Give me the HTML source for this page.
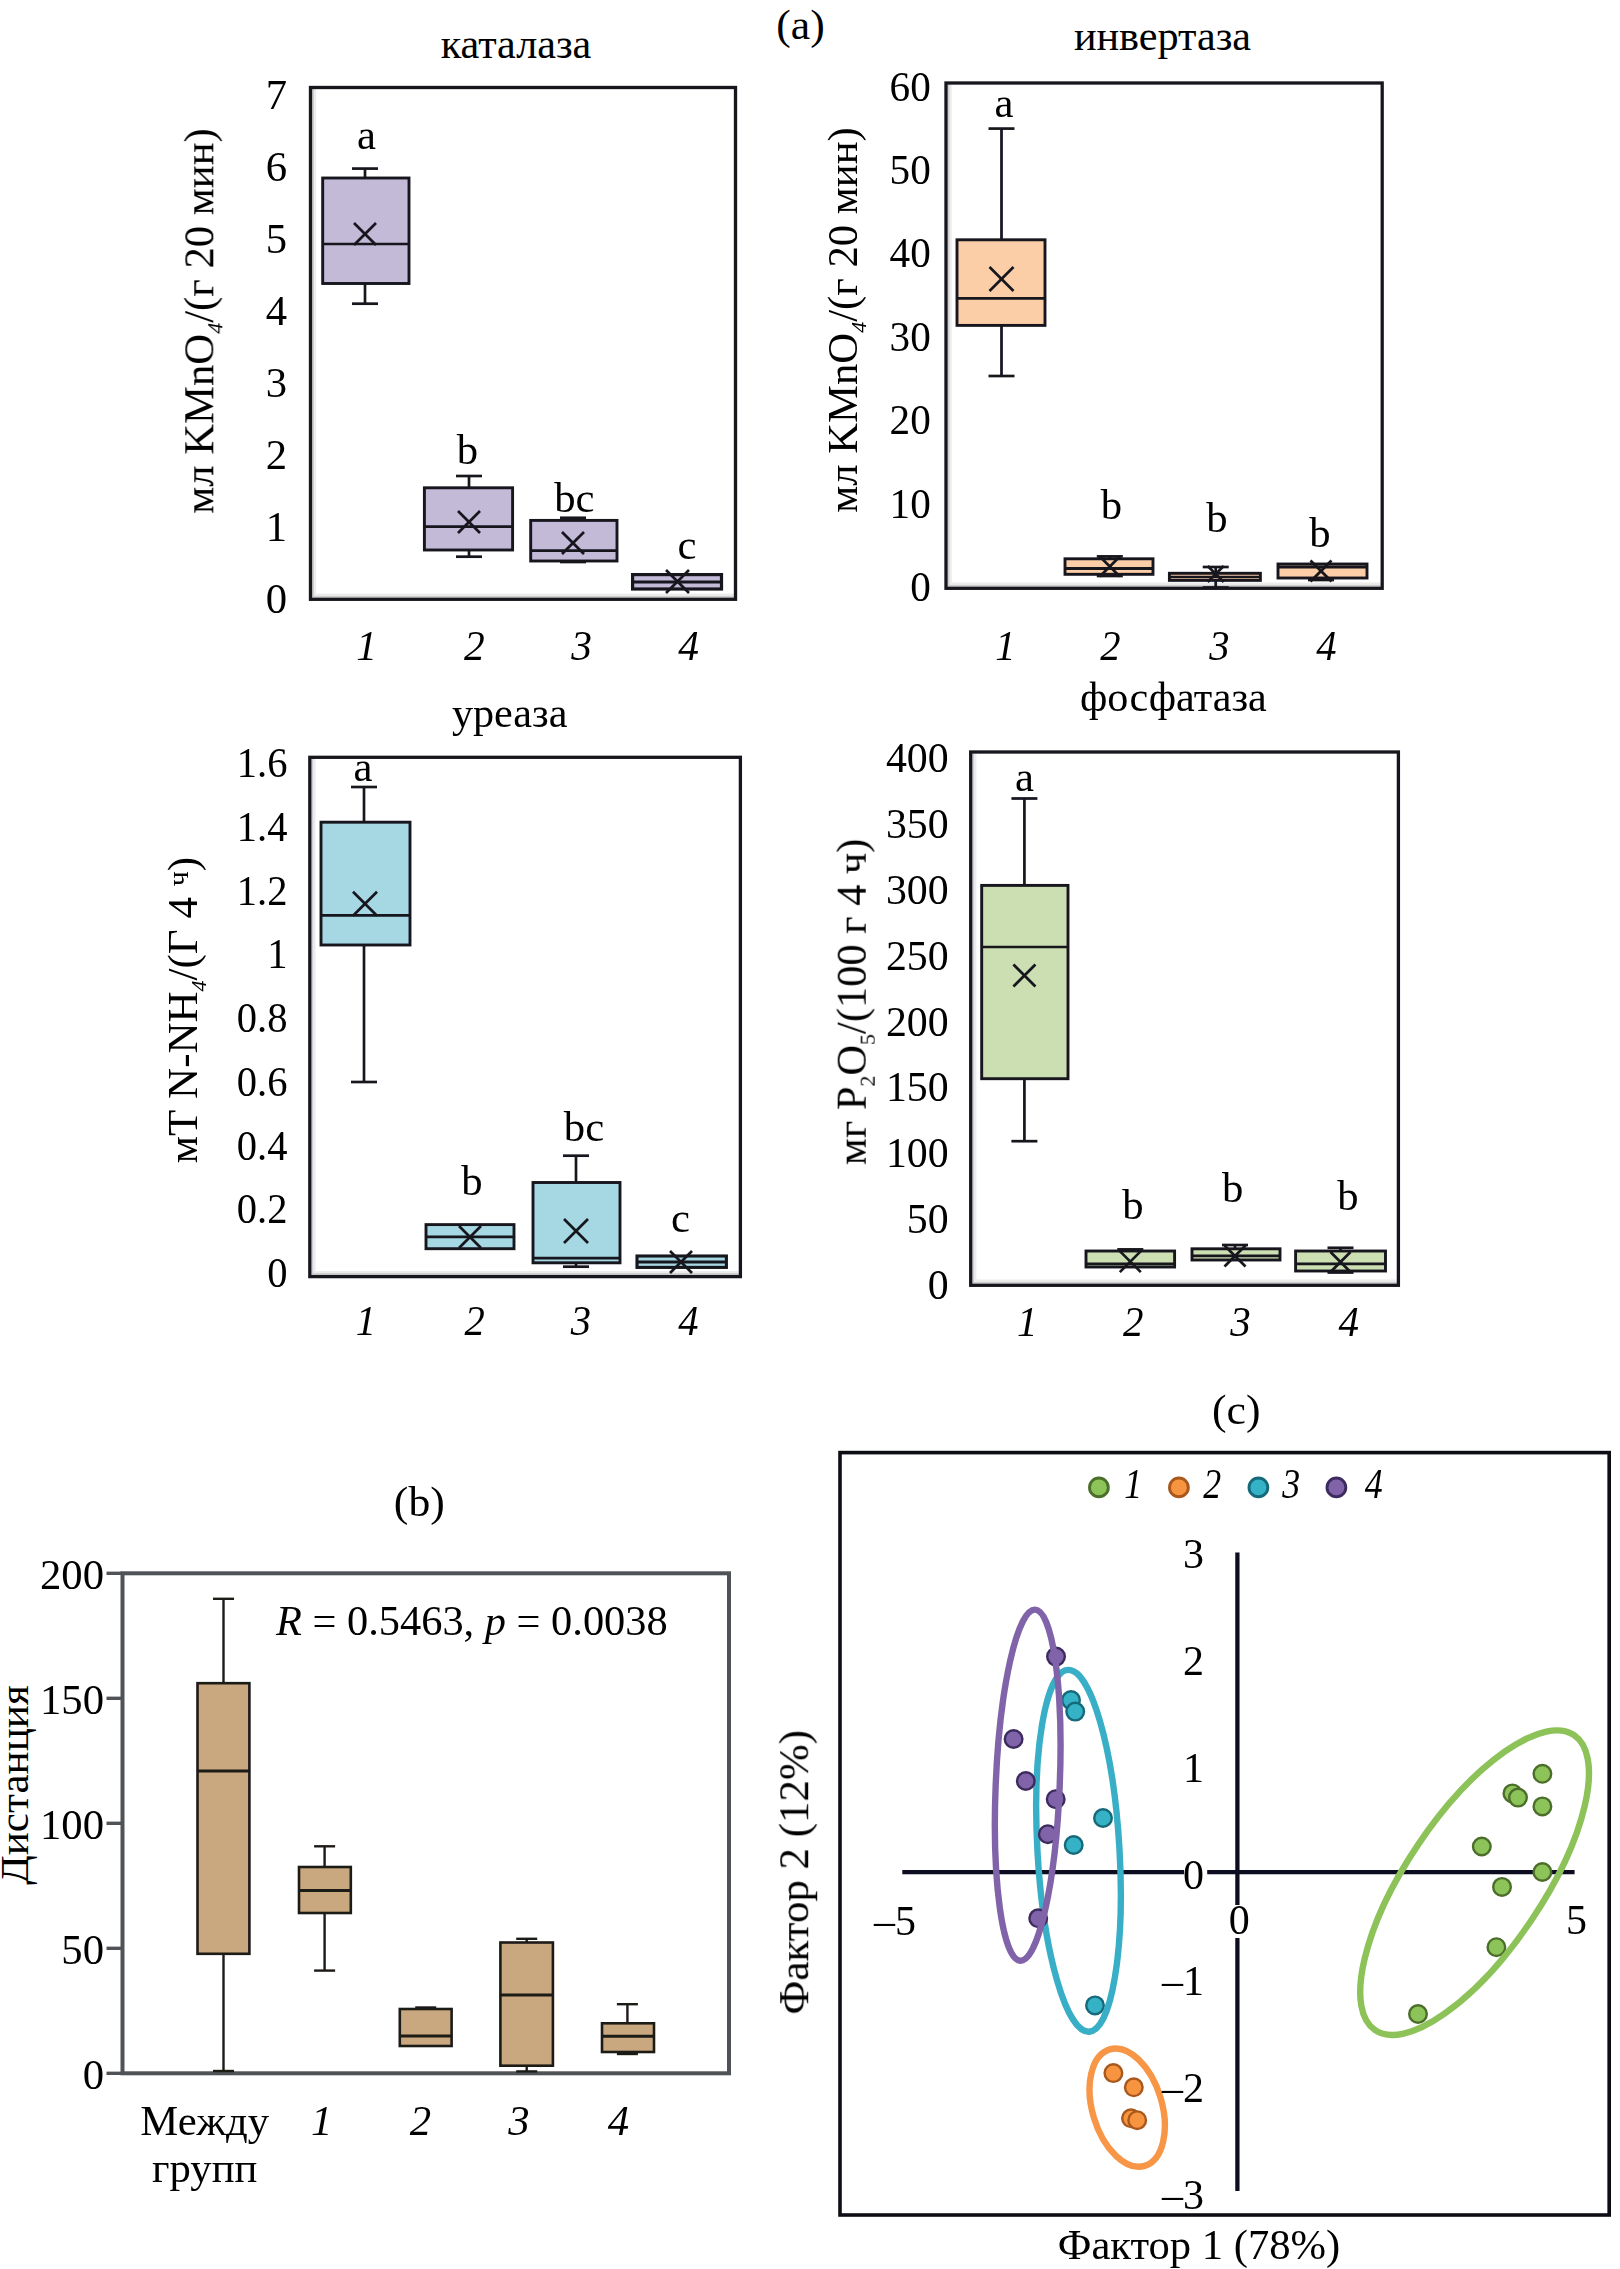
<!DOCTYPE html>
<html lang="ru"><head><meta charset="utf-8"><title>Figure</title>
<style>html,body{margin:0;padding:0;background:#fff}svg{display:block}</style>
</head><body>
<svg width="1620" height="2269" viewBox="0 0 1620 2269" font-family='"Liberation Serif", "Times New Roman", serif'>
<rect width="1620" height="2269" fill="#fff"/>
<defs><filter id="blA" filterUnits="userSpaceOnUse" x="0" y="0" width="1620" height="2269"><feGaussianBlur stdDeviation="0.55"/></filter><filter id="blC" filterUnits="userSpaceOnUse" x="0" y="0" width="1620" height="2269"><feGaussianBlur stdDeviation="0.4"/></filter><filter id="blB" filterUnits="userSpaceOnUse" x="0" y="0" width="1620" height="2269"><feGaussianBlur stdDeviation="0.7"/></filter></defs>
<g filter="url(#blA)">
<path d="M313.1 89.0 V596.7 H734.0" fill="none" stroke="#cfcfcf" stroke-width="2.2"/>
<path d="M315.2 89.0 V594.6 H734.0" fill="none" stroke="#ececec" stroke-width="2"/>
<rect x="310.5" y="87.5" width="425.0" height="511.8" fill="none" stroke="#17191f" stroke-width="3.3"/>
<line x1="365.0" y1="168.6" x2="365.0" y2="178.0" stroke="#14141f" stroke-width="2.7" stroke-linecap="butt"/>
<line x1="352.0" y1="168.6" x2="378.0" y2="168.6" stroke="#14141f" stroke-width="2.7" stroke-linecap="butt"/>
<line x1="365.0" y1="283.5" x2="365.0" y2="303.7" stroke="#14141f" stroke-width="2.7" stroke-linecap="butt"/>
<line x1="352.0" y1="303.7" x2="378.0" y2="303.7" stroke="#14141f" stroke-width="2.7" stroke-linecap="butt"/>
<rect x="322.7" y="178.0" width="86.3" height="105.5" fill="#c3bad7" stroke="#14141f" stroke-width="2.9"/>
<line x1="322.7" y1="244.0" x2="409.0" y2="244.0" stroke="#14141f" stroke-width="2.7" stroke-linecap="butt"/>
<line x1="354.0" y1="223.0" x2="376.0" y2="245.0" stroke="#14141f" stroke-width="2.7" stroke-linecap="butt"/>
<line x1="354.0" y1="245.0" x2="376.0" y2="223.0" stroke="#14141f" stroke-width="2.7" stroke-linecap="butt"/>
<line x1="469.0" y1="476.0" x2="469.0" y2="487.8" stroke="#14141f" stroke-width="2.7" stroke-linecap="butt"/>
<line x1="456.0" y1="476.0" x2="482.0" y2="476.0" stroke="#14141f" stroke-width="2.7" stroke-linecap="butt"/>
<line x1="469.0" y1="550.0" x2="469.0" y2="556.7" stroke="#14141f" stroke-width="2.7" stroke-linecap="butt"/>
<line x1="456.0" y1="556.7" x2="482.0" y2="556.7" stroke="#14141f" stroke-width="2.7" stroke-linecap="butt"/>
<rect x="424.4" y="487.8" width="88.2" height="62.2" fill="#c3bad7" stroke="#14141f" stroke-width="2.9"/>
<line x1="424.4" y1="526.7" x2="512.6" y2="526.7" stroke="#14141f" stroke-width="2.7" stroke-linecap="butt"/>
<line x1="458.0" y1="511.0" x2="480.0" y2="533.0" stroke="#14141f" stroke-width="2.7" stroke-linecap="butt"/>
<line x1="458.0" y1="533.0" x2="480.0" y2="511.0" stroke="#14141f" stroke-width="2.7" stroke-linecap="butt"/>
<line x1="573.0" y1="517.8" x2="573.0" y2="520.4" stroke="#14141f" stroke-width="2.7" stroke-linecap="butt"/>
<line x1="560.0" y1="517.8" x2="586.0" y2="517.8" stroke="#14141f" stroke-width="2.7" stroke-linecap="butt"/>
<line x1="573.0" y1="561.0" x2="573.0" y2="562.0" stroke="#14141f" stroke-width="2.7" stroke-linecap="butt"/>
<line x1="560.0" y1="562.0" x2="586.0" y2="562.0" stroke="#14141f" stroke-width="2.7" stroke-linecap="butt"/>
<rect x="530.7" y="520.4" width="86.3" height="40.6" fill="#c3bad7" stroke="#14141f" stroke-width="2.9"/>
<line x1="530.7" y1="550.7" x2="617.0" y2="550.7" stroke="#14141f" stroke-width="2.7" stroke-linecap="butt"/>
<line x1="562.0" y1="532.0" x2="584.0" y2="554.0" stroke="#14141f" stroke-width="2.7" stroke-linecap="butt"/>
<line x1="562.0" y1="554.0" x2="584.0" y2="532.0" stroke="#14141f" stroke-width="2.7" stroke-linecap="butt"/>
<rect x="632.6" y="574.6" width="88.9" height="14.4" fill="#c3bad7" stroke="#14141f" stroke-width="3.2"/>
<line x1="632.6" y1="582.0" x2="721.5" y2="582.0" stroke="#14141f" stroke-width="3" stroke-linecap="butt"/>
<line x1="666.0" y1="570.0" x2="689.0" y2="593.0" stroke="#14141f" stroke-width="2.7" stroke-linecap="butt"/>
<line x1="666.0" y1="593.0" x2="689.0" y2="570.0" stroke="#14141f" stroke-width="2.7" stroke-linecap="butt"/>
<path d="M948.6 84.5 V585.7 H1380.7" fill="none" stroke="#cfcfcf" stroke-width="2.2"/>
<path d="M950.7 84.5 V583.6 H1380.7" fill="none" stroke="#ececec" stroke-width="2"/>
<rect x="946.0" y="83.0" width="436.2" height="505.3" fill="none" stroke="#14141f" stroke-width="3.3"/>
<line x1="1001.5" y1="128.6" x2="1001.5" y2="239.8" stroke="#14141f" stroke-width="2.7" stroke-linecap="butt"/>
<line x1="988.5" y1="128.6" x2="1014.5" y2="128.6" stroke="#14141f" stroke-width="2.7" stroke-linecap="butt"/>
<line x1="1001.5" y1="325.4" x2="1001.5" y2="376.0" stroke="#14141f" stroke-width="2.7" stroke-linecap="butt"/>
<line x1="988.5" y1="376.0" x2="1014.5" y2="376.0" stroke="#14141f" stroke-width="2.7" stroke-linecap="butt"/>
<rect x="957.0" y="239.8" width="88.0" height="85.6" fill="#fbcea8" stroke="#14141f" stroke-width="2.9"/>
<line x1="957.0" y1="298.3" x2="1045.0" y2="298.3" stroke="#14141f" stroke-width="2.7" stroke-linecap="butt"/>
<line x1="989.5" y1="267.0" x2="1013.5" y2="291.0" stroke="#14141f" stroke-width="2.7" stroke-linecap="butt"/>
<line x1="989.5" y1="291.0" x2="1013.5" y2="267.0" stroke="#14141f" stroke-width="2.7" stroke-linecap="butt"/>
<line x1="1109.8" y1="556.4" x2="1109.8" y2="558.8" stroke="#14141f" stroke-width="2.7" stroke-linecap="butt"/>
<line x1="1096.8" y1="556.4" x2="1122.8" y2="556.4" stroke="#14141f" stroke-width="2.7" stroke-linecap="butt"/>
<line x1="1109.8" y1="574.3" x2="1109.8" y2="576.0" stroke="#14141f" stroke-width="2.7" stroke-linecap="butt"/>
<line x1="1096.8" y1="576.0" x2="1122.8" y2="576.0" stroke="#14141f" stroke-width="2.7" stroke-linecap="butt"/>
<rect x="1065.0" y="558.8" width="88.0" height="15.5" fill="#fbcea8" stroke="#14141f" stroke-width="2.9"/>
<line x1="1065.0" y1="568.5" x2="1153.0" y2="568.5" stroke="#14141f" stroke-width="3.2" stroke-linecap="butt"/>
<line x1="1099.8" y1="556.5" x2="1119.8" y2="576.5" stroke="#14141f" stroke-width="2.7" stroke-linecap="butt"/>
<line x1="1099.8" y1="576.5" x2="1119.8" y2="556.5" stroke="#14141f" stroke-width="2.7" stroke-linecap="butt"/>
<line x1="1215.7" y1="567.0" x2="1215.7" y2="573.3" stroke="#14141f" stroke-width="2.7" stroke-linecap="butt"/>
<line x1="1202.7" y1="567.0" x2="1228.7" y2="567.0" stroke="#14141f" stroke-width="2.7" stroke-linecap="butt"/>
<line x1="1215.7" y1="580.4" x2="1215.7" y2="587.5" stroke="#14141f" stroke-width="2.7" stroke-linecap="butt"/>
<line x1="1202.7" y1="587.5" x2="1228.7" y2="587.5" stroke="#14141f" stroke-width="2.7" stroke-linecap="butt"/>
<rect x="1169.4" y="573.3" width="91.0" height="7.1" fill="#fbcea8" stroke="#14141f" stroke-width="2.9"/>
<line x1="1169.4" y1="577.0" x2="1260.4" y2="577.0" stroke="#14141f" stroke-width="2.7" stroke-linecap="butt"/>
<line x1="1207.7" y1="566.0" x2="1223.7" y2="582.0" stroke="#14141f" stroke-width="2.7" stroke-linecap="butt"/>
<line x1="1207.7" y1="582.0" x2="1223.7" y2="566.0" stroke="#14141f" stroke-width="2.7" stroke-linecap="butt"/>
<line x1="1321.0" y1="578.0" x2="1321.0" y2="580.0" stroke="#14141f" stroke-width="2.7" stroke-linecap="butt"/>
<line x1="1308.0" y1="580.0" x2="1334.0" y2="580.0" stroke="#14141f" stroke-width="2.7" stroke-linecap="butt"/>
<rect x="1278.0" y="564.0" width="89.0" height="14.0" fill="#fbcea8" stroke="#14141f" stroke-width="2.9"/>
<line x1="1278.0" y1="567.0" x2="1367.0" y2="567.0" stroke="#14141f" stroke-width="3" stroke-linecap="butt"/>
<line x1="1310.5" y1="560.5" x2="1331.5" y2="581.5" stroke="#14141f" stroke-width="2.7" stroke-linecap="butt"/>
<line x1="1310.5" y1="581.5" x2="1331.5" y2="560.5" stroke="#14141f" stroke-width="2.7" stroke-linecap="butt"/>
<path d="M312.4 758.8 V1274.0 H738.9" fill="none" stroke="#cfcfcf" stroke-width="2.2"/>
<path d="M314.5 758.8 V1271.9 H738.9" fill="none" stroke="#ececec" stroke-width="2"/>
<rect x="309.8" y="757.3" width="430.6" height="519.3" fill="none" stroke="#14141f" stroke-width="3.3"/>
<line x1="364.0" y1="787.0" x2="364.0" y2="822.2" stroke="#14141f" stroke-width="2.7" stroke-linecap="butt"/>
<line x1="351.0" y1="787.0" x2="377.0" y2="787.0" stroke="#14141f" stroke-width="2.7" stroke-linecap="butt"/>
<line x1="364.0" y1="945.0" x2="364.0" y2="1082.0" stroke="#14141f" stroke-width="2.7" stroke-linecap="butt"/>
<line x1="351.0" y1="1082.0" x2="377.0" y2="1082.0" stroke="#14141f" stroke-width="2.7" stroke-linecap="butt"/>
<rect x="321.0" y="822.2" width="89.0" height="122.8" fill="#a6d8e3" stroke="#14141f" stroke-width="2.9"/>
<line x1="321.0" y1="915.3" x2="410.0" y2="915.3" stroke="#14141f" stroke-width="2.7" stroke-linecap="butt"/>
<line x1="353.0" y1="891.7" x2="377.0" y2="915.7" stroke="#14141f" stroke-width="2.7" stroke-linecap="butt"/>
<line x1="353.0" y1="915.7" x2="377.0" y2="891.7" stroke="#14141f" stroke-width="2.7" stroke-linecap="butt"/>
<rect x="426.0" y="1224.6" width="88.0" height="24.1" fill="#a6d8e3" stroke="#14141f" stroke-width="2.9"/>
<line x1="426.0" y1="1236.8" x2="514.0" y2="1236.8" stroke="#14141f" stroke-width="2.7" stroke-linecap="butt"/>
<line x1="459.0" y1="1226.0" x2="481.0" y2="1248.0" stroke="#14141f" stroke-width="2.7" stroke-linecap="butt"/>
<line x1="459.0" y1="1248.0" x2="481.0" y2="1226.0" stroke="#14141f" stroke-width="2.7" stroke-linecap="butt"/>
<line x1="576.0" y1="1155.7" x2="576.0" y2="1182.5" stroke="#14141f" stroke-width="2.7" stroke-linecap="butt"/>
<line x1="563.0" y1="1155.7" x2="589.0" y2="1155.7" stroke="#14141f" stroke-width="2.7" stroke-linecap="butt"/>
<line x1="576.0" y1="1262.8" x2="576.0" y2="1266.7" stroke="#14141f" stroke-width="2.7" stroke-linecap="butt"/>
<line x1="563.0" y1="1266.7" x2="589.0" y2="1266.7" stroke="#14141f" stroke-width="2.7" stroke-linecap="butt"/>
<rect x="533.0" y="1182.5" width="87.0" height="80.3" fill="#a6d8e3" stroke="#14141f" stroke-width="2.9"/>
<line x1="533.0" y1="1258.2" x2="620.0" y2="1258.2" stroke="#14141f" stroke-width="2.7" stroke-linecap="butt"/>
<line x1="564.0" y1="1219.0" x2="588.0" y2="1243.0" stroke="#14141f" stroke-width="2.7" stroke-linecap="butt"/>
<line x1="564.0" y1="1243.0" x2="588.0" y2="1219.0" stroke="#14141f" stroke-width="2.7" stroke-linecap="butt"/>
<rect x="637.0" y="1256.0" width="89.4" height="11.4" fill="#a6d8e3" stroke="#14141f" stroke-width="3.1"/>
<line x1="637.0" y1="1262.0" x2="726.4" y2="1262.0" stroke="#14141f" stroke-width="3" stroke-linecap="butt"/>
<line x1="670.0" y1="1251.0" x2="692.0" y2="1273.0" stroke="#14141f" stroke-width="2.7" stroke-linecap="butt"/>
<line x1="670.0" y1="1273.0" x2="692.0" y2="1251.0" stroke="#14141f" stroke-width="2.7" stroke-linecap="butt"/>
<path d="M973.3 753.5 V1282.7 H1396.9" fill="none" stroke="#cfcfcf" stroke-width="2.2"/>
<path d="M975.4 753.5 V1280.6 H1396.9" fill="none" stroke="#ececec" stroke-width="2"/>
<rect x="970.7" y="752.0" width="427.7" height="533.3" fill="none" stroke="#14141f" stroke-width="3.3"/>
<line x1="1024.4" y1="798.5" x2="1024.4" y2="885.4" stroke="#14141f" stroke-width="2.7" stroke-linecap="butt"/>
<line x1="1011.4" y1="798.5" x2="1037.4" y2="798.5" stroke="#14141f" stroke-width="2.7" stroke-linecap="butt"/>
<line x1="1024.4" y1="1078.7" x2="1024.4" y2="1141.2" stroke="#14141f" stroke-width="2.7" stroke-linecap="butt"/>
<line x1="1011.4" y1="1141.2" x2="1037.4" y2="1141.2" stroke="#14141f" stroke-width="2.7" stroke-linecap="butt"/>
<rect x="981.7" y="885.4" width="86.3" height="193.3" fill="#ccdfb2" stroke="#14141f" stroke-width="2.9"/>
<line x1="981.7" y1="947.0" x2="1068.0" y2="947.0" stroke="#14141f" stroke-width="2.7" stroke-linecap="butt"/>
<line x1="1013.4" y1="964.5" x2="1035.4" y2="986.5" stroke="#14141f" stroke-width="2.7" stroke-linecap="butt"/>
<line x1="1013.4" y1="986.5" x2="1035.4" y2="964.5" stroke="#14141f" stroke-width="2.7" stroke-linecap="butt"/>
<line x1="1130.3" y1="1249.4" x2="1130.3" y2="1251.0" stroke="#14141f" stroke-width="2.7" stroke-linecap="butt"/>
<line x1="1117.3" y1="1249.4" x2="1143.3" y2="1249.4" stroke="#14141f" stroke-width="2.7" stroke-linecap="butt"/>
<rect x="1086.0" y="1251.0" width="88.6" height="16.0" fill="#ccdfb2" stroke="#14141f" stroke-width="2.9"/>
<line x1="1086.0" y1="1263.9" x2="1174.6" y2="1263.9" stroke="#14141f" stroke-width="2.7" stroke-linecap="butt"/>
<line x1="1119.8" y1="1251.1" x2="1140.8" y2="1272.1" stroke="#14141f" stroke-width="2.7" stroke-linecap="butt"/>
<line x1="1119.8" y1="1272.1" x2="1140.8" y2="1251.1" stroke="#14141f" stroke-width="2.7" stroke-linecap="butt"/>
<line x1="1235.0" y1="1245.0" x2="1235.0" y2="1248.8" stroke="#14141f" stroke-width="2.7" stroke-linecap="butt"/>
<line x1="1222.0" y1="1245.0" x2="1248.0" y2="1245.0" stroke="#14141f" stroke-width="2.7" stroke-linecap="butt"/>
<rect x="1192.0" y="1248.8" width="88.0" height="11.2" fill="#ccdfb2" stroke="#14141f" stroke-width="2.9"/>
<line x1="1192.0" y1="1255.8" x2="1280.0" y2="1255.8" stroke="#14141f" stroke-width="2.7" stroke-linecap="butt"/>
<line x1="1224.5" y1="1245.5" x2="1245.5" y2="1266.5" stroke="#14141f" stroke-width="2.7" stroke-linecap="butt"/>
<line x1="1224.5" y1="1266.5" x2="1245.5" y2="1245.5" stroke="#14141f" stroke-width="2.7" stroke-linecap="butt"/>
<line x1="1340.5" y1="1247.8" x2="1340.5" y2="1251.0" stroke="#14141f" stroke-width="2.7" stroke-linecap="butt"/>
<line x1="1327.5" y1="1247.8" x2="1353.5" y2="1247.8" stroke="#14141f" stroke-width="2.7" stroke-linecap="butt"/>
<line x1="1340.5" y1="1271.0" x2="1340.5" y2="1272.5" stroke="#14141f" stroke-width="2.7" stroke-linecap="butt"/>
<line x1="1327.5" y1="1272.5" x2="1353.5" y2="1272.5" stroke="#14141f" stroke-width="2.7" stroke-linecap="butt"/>
<rect x="1295.6" y="1251.0" width="89.9" height="20.0" fill="#ccdfb2" stroke="#14141f" stroke-width="2.9"/>
<line x1="1295.6" y1="1263.9" x2="1385.5" y2="1263.9" stroke="#14141f" stroke-width="2.7" stroke-linecap="butt"/>
<line x1="1330.5" y1="1252.0" x2="1350.5" y2="1272.0" stroke="#14141f" stroke-width="2.7" stroke-linecap="butt"/>
<line x1="1330.5" y1="1272.0" x2="1350.5" y2="1252.0" stroke="#14141f" stroke-width="2.7" stroke-linecap="butt"/>
<g filter="url(#blB)">
<rect x="122.5" y="1573.3" width="606.5" height="500" fill="none" stroke="#4f5358" stroke-width="4"/>
<line x1="106.5" y1="1573.3" x2="122.5" y2="1573.3" stroke="#4f5358" stroke-width="3.4" stroke-linecap="butt"/>
<line x1="106.5" y1="1698.3" x2="122.5" y2="1698.3" stroke="#4f5358" stroke-width="3.4" stroke-linecap="butt"/>
<line x1="106.5" y1="1823.3" x2="122.5" y2="1823.3" stroke="#4f5358" stroke-width="3.4" stroke-linecap="butt"/>
<line x1="106.5" y1="1948.3" x2="122.5" y2="1948.3" stroke="#4f5358" stroke-width="3.4" stroke-linecap="butt"/>
<line x1="106.5" y1="2073.3" x2="122.5" y2="2073.3" stroke="#4f5358" stroke-width="3.4" stroke-linecap="butt"/>
</g>
<line x1="223.5" y1="1598.8" x2="223.5" y2="1683.2" stroke="#1f1a18" stroke-width="2.4" stroke-linecap="butt"/>
<line x1="213.0" y1="1598.8" x2="234.0" y2="1598.8" stroke="#1f1a18" stroke-width="2.4" stroke-linecap="butt"/>
<line x1="223.5" y1="1953.8" x2="223.5" y2="2071.0" stroke="#1f1a18" stroke-width="2.4" stroke-linecap="butt"/>
<line x1="213.0" y1="2071.0" x2="234.0" y2="2071.0" stroke="#1f1a18" stroke-width="2.4" stroke-linecap="butt"/>
<rect x="197.5" y="1683.2" width="51.9" height="270.6" fill="#c9a880" stroke="#1f1a18" stroke-width="2.6"/>
<line x1="197.5" y1="1770.9" x2="249.4" y2="1770.9" stroke="#1f1a18" stroke-width="3" stroke-linecap="butt"/>
<line x1="324.6" y1="1846.3" x2="324.6" y2="1867.0" stroke="#1f1a18" stroke-width="2.4" stroke-linecap="butt"/>
<line x1="314.1" y1="1846.3" x2="335.1" y2="1846.3" stroke="#1f1a18" stroke-width="2.4" stroke-linecap="butt"/>
<line x1="324.6" y1="1913.0" x2="324.6" y2="1970.6" stroke="#1f1a18" stroke-width="2.4" stroke-linecap="butt"/>
<line x1="314.1" y1="1970.6" x2="335.1" y2="1970.6" stroke="#1f1a18" stroke-width="2.4" stroke-linecap="butt"/>
<rect x="299.0" y="1867.0" width="51.8" height="46.0" fill="#c9a880" stroke="#1f1a18" stroke-width="2.6"/>
<line x1="299.0" y1="1890.4" x2="350.8" y2="1890.4" stroke="#1f1a18" stroke-width="3" stroke-linecap="butt"/>
<line x1="425.7" y1="2007.5" x2="425.7" y2="2009.0" stroke="#1f1a18" stroke-width="2.4" stroke-linecap="butt"/>
<line x1="415.2" y1="2007.5" x2="436.2" y2="2007.5" stroke="#1f1a18" stroke-width="2.4" stroke-linecap="butt"/>
<rect x="399.8" y="2009.0" width="51.8" height="37.0" fill="#c9a880" stroke="#1f1a18" stroke-width="2.6"/>
<line x1="399.8" y1="2036.0" x2="451.6" y2="2036.0" stroke="#1f1a18" stroke-width="3" stroke-linecap="butt"/>
<line x1="526.7" y1="1938.8" x2="526.7" y2="1942.5" stroke="#1f1a18" stroke-width="2.4" stroke-linecap="butt"/>
<line x1="516.2" y1="1938.8" x2="537.2" y2="1938.8" stroke="#1f1a18" stroke-width="2.4" stroke-linecap="butt"/>
<line x1="526.7" y1="2065.7" x2="526.7" y2="2071.4" stroke="#1f1a18" stroke-width="2.4" stroke-linecap="butt"/>
<line x1="516.2" y1="2071.4" x2="537.2" y2="2071.4" stroke="#1f1a18" stroke-width="2.4" stroke-linecap="butt"/>
<rect x="500.4" y="1942.5" width="52.5" height="123.2" fill="#c9a880" stroke="#1f1a18" stroke-width="2.6"/>
<line x1="500.4" y1="1995.0" x2="552.9" y2="1995.0" stroke="#1f1a18" stroke-width="3" stroke-linecap="butt"/>
<line x1="627.4" y1="2004.2" x2="627.4" y2="2023.3" stroke="#1f1a18" stroke-width="2.4" stroke-linecap="butt"/>
<line x1="616.9" y1="2004.2" x2="637.9" y2="2004.2" stroke="#1f1a18" stroke-width="2.4" stroke-linecap="butt"/>
<line x1="627.4" y1="2052.0" x2="627.4" y2="2054.0" stroke="#1f1a18" stroke-width="2.4" stroke-linecap="butt"/>
<line x1="616.9" y1="2054.0" x2="637.9" y2="2054.0" stroke="#1f1a18" stroke-width="2.4" stroke-linecap="butt"/>
<rect x="602.0" y="2023.3" width="52.0" height="28.7" fill="#c9a880" stroke="#1f1a18" stroke-width="2.6"/>
<line x1="602.0" y1="2036.3" x2="654.0" y2="2036.3" stroke="#1f1a18" stroke-width="3" stroke-linecap="butt"/>
</g>
<g filter="url(#blC)">
<rect x="840" y="1452.6" width="769.2" height="762.4" fill="none" stroke="#0b0b12" stroke-width="3.6"/>
<line x1="1237.4" y1="1552.4" x2="1237.4" y2="2191.0" stroke="#0d0d20" stroke-width="4.3" stroke-linecap="butt"/>
<line x1="902.3" y1="1872.1" x2="1574.6" y2="1872.1" stroke="#0d0d20" stroke-width="4.2" stroke-linecap="butt"/>
<rect x="1184" y="1866" width="23.2" height="12" fill="#fff"/>
<rect x="1231" y="1905" width="13" height="33" fill="#fff"/>
<circle cx="1098.9" cy="1487.4" r="9.4" fill="#8cc45a" stroke="#4c6e2a" stroke-width="2.9"/>
<circle cx="1178.9" cy="1487.4" r="9.4" fill="#f79440" stroke="#a8581c" stroke-width="2.9"/>
<circle cx="1258.4" cy="1487.4" r="9.4" fill="#34b2c6" stroke="#17697a" stroke-width="2.9"/>
<circle cx="1336.4" cy="1487.4" r="9.4" fill="#8064a8" stroke="#3d2c5e" stroke-width="2.9"/>
<circle cx="1071" cy="1700.1" r="8.8" fill="#34b2c6" stroke="#17697a" stroke-width="2.4"/>
<circle cx="1075.2" cy="1711.6" r="8.8" fill="#34b2c6" stroke="#17697a" stroke-width="2.4"/>
<circle cx="1103" cy="1818" r="8.8" fill="#34b2c6" stroke="#17697a" stroke-width="2.4"/>
<circle cx="1073.7" cy="1845" r="8.8" fill="#34b2c6" stroke="#17697a" stroke-width="2.4"/>
<circle cx="1095" cy="2005.4" r="8.8" fill="#34b2c6" stroke="#17697a" stroke-width="2.4"/>
<ellipse cx="0" cy="0" rx="41" ry="181.2" transform="translate(1078.5,1850.8) rotate(-3.35)" fill="none" stroke="#38afc6" stroke-width="6.4"/>
<circle cx="1056" cy="1656.6" r="8.8" fill="#8064a8" stroke="#3d2c5e" stroke-width="2.4"/>
<circle cx="1013.6" cy="1739" r="8.8" fill="#8064a8" stroke="#3d2c5e" stroke-width="2.4"/>
<circle cx="1025.8" cy="1781" r="8.8" fill="#8064a8" stroke="#3d2c5e" stroke-width="2.4"/>
<circle cx="1055.7" cy="1799.2" r="8.8" fill="#8064a8" stroke="#3d2c5e" stroke-width="2.4"/>
<circle cx="1047.8" cy="1834.2" r="8.8" fill="#8064a8" stroke="#3d2c5e" stroke-width="2.4"/>
<circle cx="1038.2" cy="1918.3" r="8.8" fill="#8064a8" stroke="#3d2c5e" stroke-width="2.4"/>
<ellipse cx="0" cy="0" rx="32" ry="175.7" transform="translate(1027.7,1785.2) rotate(2.41)" fill="none" stroke="#8064a8" stroke-width="6.4"/>
<circle cx="1113.4" cy="2073.1" r="8.8" fill="#f79440" stroke="#a8581c" stroke-width="2.4"/>
<circle cx="1133.8" cy="2087.3" r="8.8" fill="#f79440" stroke="#a8581c" stroke-width="2.4"/>
<circle cx="1131" cy="2118.3" r="8.8" fill="#f79440" stroke="#a8581c" stroke-width="2.4"/>
<circle cx="1137.2" cy="2120.2" r="8.8" fill="#f79440" stroke="#a8581c" stroke-width="2.4"/>
<ellipse cx="0" cy="0" rx="34.8" ry="60.8" transform="translate(1127.2,2107.6) rotate(-16.7)" fill="none" stroke="#f79646" stroke-width="6.4"/>
<circle cx="1542.4" cy="1773.8" r="8.8" fill="#8cc45a" stroke="#4c6e2a" stroke-width="2.4"/>
<circle cx="1512.4" cy="1793.4" r="8.8" fill="#8cc45a" stroke="#4c6e2a" stroke-width="2.4"/>
<circle cx="1518" cy="1797.6" r="8.8" fill="#8cc45a" stroke="#4c6e2a" stroke-width="2.4"/>
<circle cx="1542.4" cy="1806.4" r="8.8" fill="#8cc45a" stroke="#4c6e2a" stroke-width="2.4"/>
<circle cx="1481.8" cy="1846.5" r="8.8" fill="#8cc45a" stroke="#4c6e2a" stroke-width="2.4"/>
<circle cx="1542.4" cy="1872" r="8.8" fill="#8cc45a" stroke="#4c6e2a" stroke-width="2.4"/>
<circle cx="1502" cy="1886.9" r="8.8" fill="#8cc45a" stroke="#4c6e2a" stroke-width="2.4"/>
<circle cx="1496.4" cy="1947.2" r="8.8" fill="#8cc45a" stroke="#4c6e2a" stroke-width="2.4"/>
<circle cx="1418" cy="2014" r="8.8" fill="#8cc45a" stroke="#4c6e2a" stroke-width="2.4"/>
<ellipse cx="0" cy="0" rx="68.1" ry="177.9" transform="translate(1474.6,1882.7) rotate(34)" fill="none" stroke="#8cc259" stroke-width="6.4"/>
</g>
<g>
<text transform="translate(800.5,38.9) scale(1.045,1)" font-size="41.8" text-anchor="middle" fill="#000">(a)</text>
<text x="287.0" y="109.0" font-size="42.7" text-anchor="end" fill="#000">7</text>
<text x="287.0" y="181.0" font-size="42.7" text-anchor="end" fill="#000">6</text>
<text x="287.0" y="253.0" font-size="42.7" text-anchor="end" fill="#000">5</text>
<text x="287.0" y="325.0" font-size="42.7" text-anchor="end" fill="#000">4</text>
<text x="287.0" y="397.0" font-size="42.7" text-anchor="end" fill="#000">3</text>
<text x="287.0" y="469.0" font-size="42.7" text-anchor="end" fill="#000">2</text>
<text x="287.0" y="541.0" font-size="42.7" text-anchor="end" fill="#000">1</text>
<text x="287.0" y="613.0" font-size="42.7" text-anchor="end" fill="#000">0</text>
<text transform="translate(366.7,659.7) scale(0.97,1)" font-size="42.7" text-anchor="middle" font-style="italic" fill="#000">1</text>
<text transform="translate(474.3,659.7) scale(0.97,1)" font-size="42.7" text-anchor="middle" font-style="italic" fill="#000">2</text>
<text transform="translate(581.6,659.7) scale(0.97,1)" font-size="42.7" text-anchor="middle" font-style="italic" fill="#000">3</text>
<text transform="translate(688.6,659.7) scale(0.97,1)" font-size="42.7" text-anchor="middle" font-style="italic" fill="#000">4</text>
<text x="516.0" y="58.3" font-size="42.2" text-anchor="middle" fill="#000">каталаза</text>
<text transform="translate(213.3,321.0) rotate(-90)" font-size="42.7" text-anchor="middle">мл KMnO<tspan font-size="22" font-style="italic" dy="9">4</tspan><tspan dy="-9" font-size="1">&#8203;</tspan>/(г 20 мин)</text>
<text x="366.5" y="148.6" font-size="42.7" text-anchor="middle" fill="#000">a</text>
<text x="467.5" y="464.0" font-size="42.7" text-anchor="middle" fill="#000">b</text>
<text x="574.4" y="512.0" font-size="42.7" text-anchor="middle" fill="#000">bc</text>
<text x="687.0" y="558.8" font-size="42.7" text-anchor="middle" fill="#000">c</text>
<text transform="translate(930.8,100.5) scale(0.965,1)" font-size="42.7" text-anchor="end" fill="#000">60</text>
<text transform="translate(930.8,183.9) scale(0.965,1)" font-size="42.7" text-anchor="end" fill="#000">50</text>
<text transform="translate(930.8,267.3) scale(0.965,1)" font-size="42.7" text-anchor="end" fill="#000">40</text>
<text transform="translate(930.8,350.7) scale(0.965,1)" font-size="42.7" text-anchor="end" fill="#000">30</text>
<text transform="translate(930.8,434.1) scale(0.965,1)" font-size="42.7" text-anchor="end" fill="#000">20</text>
<text transform="translate(930.8,517.5) scale(0.965,1)" font-size="42.7" text-anchor="end" fill="#000">10</text>
<text transform="translate(930.8,600.9) scale(0.965,1)" font-size="42.7" text-anchor="end" fill="#000">0</text>
<text transform="translate(1005.3,659.7) scale(0.95,1)" font-size="42.7" text-anchor="middle" font-style="italic" fill="#000">1</text>
<text transform="translate(1110.5,659.7) scale(0.95,1)" font-size="42.7" text-anchor="middle" font-style="italic" fill="#000">2</text>
<text transform="translate(1219.3,659.7) scale(0.95,1)" font-size="42.7" text-anchor="middle" font-style="italic" fill="#000">3</text>
<text transform="translate(1326.3,659.7) scale(0.95,1)" font-size="42.7" text-anchor="middle" font-style="italic" fill="#000">4</text>
<text x="1162.5" y="50.0" font-size="42.2" text-anchor="middle" fill="#000">инвертаза</text>
<text transform="translate(857.0,320.0) rotate(-90)" font-size="42.7" text-anchor="middle">мл KMnO<tspan font-size="22" font-style="italic" dy="9">4</tspan><tspan dy="-9" font-size="1">&#8203;</tspan>/(г 20 мин)</text>
<text x="1003.9" y="116.6" font-size="42.7" text-anchor="middle" fill="#000">a</text>
<text x="1111.5" y="519.0" font-size="42.7" text-anchor="middle" fill="#000">b</text>
<text x="1217.0" y="532.0" font-size="42.7" text-anchor="middle" fill="#000">b</text>
<text x="1319.9" y="547.2" font-size="42.7" text-anchor="middle" fill="#000">b</text>
<text transform="translate(287.4,777.0) scale(0.95,1)" font-size="42.7" text-anchor="end" fill="#000">1.6</text>
<text transform="translate(287.4,840.8) scale(0.95,1)" font-size="42.7" text-anchor="end" fill="#000">1.4</text>
<text transform="translate(287.4,904.5) scale(0.95,1)" font-size="42.7" text-anchor="end" fill="#000">1.2</text>
<text transform="translate(287.4,968.2) scale(0.95,1)" font-size="42.7" text-anchor="end" fill="#000">1</text>
<text transform="translate(287.4,1032.0) scale(0.95,1)" font-size="42.7" text-anchor="end" fill="#000">0.8</text>
<text transform="translate(287.4,1095.8) scale(0.95,1)" font-size="42.7" text-anchor="end" fill="#000">0.6</text>
<text transform="translate(287.4,1159.5) scale(0.95,1)" font-size="42.7" text-anchor="end" fill="#000">0.4</text>
<text transform="translate(287.4,1223.2) scale(0.95,1)" font-size="42.7" text-anchor="end" fill="#000">0.2</text>
<text transform="translate(287.4,1287.0) scale(0.95,1)" font-size="42.7" text-anchor="end" fill="#000">0</text>
<text transform="translate(366.0,1334.6) scale(0.95,1)" font-size="42.7" text-anchor="middle" font-style="italic" fill="#000">1</text>
<text transform="translate(474.6,1334.6) scale(0.95,1)" font-size="42.7" text-anchor="middle" font-style="italic" fill="#000">2</text>
<text transform="translate(581.0,1334.6) scale(0.95,1)" font-size="42.7" text-anchor="middle" font-style="italic" fill="#000">3</text>
<text transform="translate(688.5,1334.6) scale(0.95,1)" font-size="42.7" text-anchor="middle" font-style="italic" fill="#000">4</text>
<text x="509.7" y="727.4" font-size="42.2" text-anchor="middle" fill="#000">уреаза</text>
<text transform="translate(197.0,1010.0) rotate(-90)" font-size="43" text-anchor="middle">мТ N-NH<tspan font-size="22" font-style="italic" dy="9">4</tspan><tspan dy="-9" font-size="1">&#8203;</tspan>/(Г 4 <tspan font-size="30" dy="-9">ч</tspan><tspan dy="9" font-size="1">&#8203;</tspan>)</text>
<text x="363.0" y="780.7" font-size="42.7" text-anchor="middle" fill="#000">a</text>
<text x="472.0" y="1195.0" font-size="42.7" text-anchor="middle" fill="#000">b</text>
<text x="584.0" y="1140.7" font-size="42.7" text-anchor="middle" fill="#000">bc</text>
<text x="680.5" y="1232.0" font-size="42.7" text-anchor="middle" fill="#000">c</text>
<text transform="translate(948.7,772.3) scale(0.98,1)" font-size="42.7" text-anchor="end" fill="#000">400</text>
<text transform="translate(948.7,838.1) scale(0.98,1)" font-size="42.7" text-anchor="end" fill="#000">350</text>
<text transform="translate(948.7,903.9) scale(0.98,1)" font-size="42.7" text-anchor="end" fill="#000">300</text>
<text transform="translate(948.7,969.7) scale(0.98,1)" font-size="42.7" text-anchor="end" fill="#000">250</text>
<text transform="translate(948.7,1035.5) scale(0.98,1)" font-size="42.7" text-anchor="end" fill="#000">200</text>
<text transform="translate(948.7,1101.3) scale(0.98,1)" font-size="42.7" text-anchor="end" fill="#000">150</text>
<text transform="translate(948.7,1167.1) scale(0.98,1)" font-size="42.7" text-anchor="end" fill="#000">100</text>
<text transform="translate(948.7,1232.9) scale(0.98,1)" font-size="42.7" text-anchor="end" fill="#000">50</text>
<text transform="translate(948.7,1298.7) scale(0.98,1)" font-size="42.7" text-anchor="end" fill="#000">0</text>
<text transform="translate(1027.2,1336.4) scale(0.96,1)" font-size="42.7" text-anchor="middle" font-style="italic" fill="#000">1</text>
<text transform="translate(1133.2,1336.4) scale(0.96,1)" font-size="42.7" text-anchor="middle" font-style="italic" fill="#000">2</text>
<text transform="translate(1240.6,1336.4) scale(0.96,1)" font-size="42.7" text-anchor="middle" font-style="italic" fill="#000">3</text>
<text transform="translate(1348.8,1336.4) scale(0.96,1)" font-size="42.7" text-anchor="middle" font-style="italic" fill="#000">4</text>
<text x="1173.4" y="711.4" font-size="42.2" text-anchor="middle" fill="#000">фосфатаза</text>
<text transform="translate(865.7,1001.8) rotate(-90)" font-size="42.4" text-anchor="middle">мг P<tspan font-size="22" dy="9">2</tspan><tspan dy="-9" font-size="1">&#8203;</tspan>O<tspan font-size="22" dy="9">5</tspan><tspan dy="-9" font-size="1">&#8203;</tspan>/(100 г 4 ч)</text>
<text x="1024.4" y="791.0" font-size="42.7" text-anchor="middle" fill="#000">a</text>
<text x="1133.0" y="1219.0" font-size="42.7" text-anchor="middle" fill="#000">b</text>
<text x="1232.7" y="1201.6" font-size="42.7" text-anchor="middle" fill="#000">b</text>
<text x="1348.0" y="1209.7" font-size="42.7" text-anchor="middle" fill="#000">b</text>
<text transform="translate(419.3,1516.2) scale(1.045,1)" font-size="41.8" text-anchor="middle" fill="#000">(b)</text>
<text x="104.0" y="1589.3" font-size="42.7" text-anchor="end" fill="#000">200</text>
<text x="104.0" y="1714.3" font-size="42.7" text-anchor="end" fill="#000">150</text>
<text x="104.0" y="1839.3" font-size="42.7" text-anchor="end" fill="#000">100</text>
<text x="104.0" y="1964.3" font-size="42.7" text-anchor="end" fill="#000">50</text>
<text x="104.0" y="2089.3" font-size="42.7" text-anchor="end" fill="#000">0</text>
<text transform="translate(28.0,1785.0) rotate(-90) scale(1.091,1)" font-size="39.6" text-anchor="middle">Дистанция</text>
<text x="276" y="1634.8" font-size="42.4"><tspan font-style="italic">R</tspan> = 0.5463, <tspan font-style="italic">p</tspan> = 0.0038</text>
<text x="204.7" y="2134.8" font-size="42.7" text-anchor="middle" fill="#000">Между</text>
<text x="204.7" y="2181.7" font-size="42.7" text-anchor="middle" fill="#000">групп</text>
<text x="321.7" y="2134.7" font-size="42.7" text-anchor="middle" font-style="italic" fill="#000">1</text>
<text x="420.3" y="2134.7" font-size="42.7" text-anchor="middle" font-style="italic" fill="#000">2</text>
<text x="519.0" y="2134.7" font-size="42.7" text-anchor="middle" font-style="italic" fill="#000">3</text>
<text x="618.5" y="2134.7" font-size="42.7" text-anchor="middle" font-style="italic" fill="#000">4</text>
<text transform="translate(1236.3,1424.2) scale(1.045,1)" font-size="41.8" text-anchor="middle" fill="#000">(c)</text>
<text transform="translate(1133.2,1498.0) scale(0.84,1)" font-size="42.7" text-anchor="middle" font-style="italic" fill="#000">1</text>
<text transform="translate(1212.2,1498.0) scale(0.84,1)" font-size="42.7" text-anchor="middle" font-style="italic" fill="#000">2</text>
<text transform="translate(1291.2,1498.0) scale(0.84,1)" font-size="42.7" text-anchor="middle" font-style="italic" fill="#000">3</text>
<text transform="translate(1373.7,1498.0) scale(0.84,1)" font-size="42.7" text-anchor="middle" font-style="italic" fill="#000">4</text>
<text x="1204.0" y="1568.2" font-size="42" text-anchor="end" fill="#000">3</text>
<text x="1204.0" y="1675.0" font-size="42" text-anchor="end" fill="#000">2</text>
<text x="1204.0" y="1781.7" font-size="42" text-anchor="end" fill="#000">1</text>
<text x="1204.0" y="1888.5" font-size="42" text-anchor="end" fill="#000">0</text>
<text x="1204.0" y="1995.2" font-size="42" text-anchor="end" fill="#000">–1</text>
<text x="1204.0" y="2101.9" font-size="42" text-anchor="end" fill="#000">–2</text>
<text x="1204.0" y="2208.7" font-size="42" text-anchor="end" fill="#000">–3</text>
<text x="895.0" y="1934.5" font-size="42" text-anchor="middle" fill="#000">–5</text>
<text x="1239.2" y="1934.3" font-size="42" text-anchor="middle" fill="#000">0</text>
<text x="1576.5" y="1933.8" font-size="42" text-anchor="middle" fill="#000">5</text>
<text x="1057.8" y="2258.9" font-size="42.6">Фактор 1 (78%)</text>
<text transform="translate(808.2,1872.3) rotate(-90)" font-size="42.9" text-anchor="middle">Фактор 2 (12%)</text>
</g>
</svg>
</body></html>
